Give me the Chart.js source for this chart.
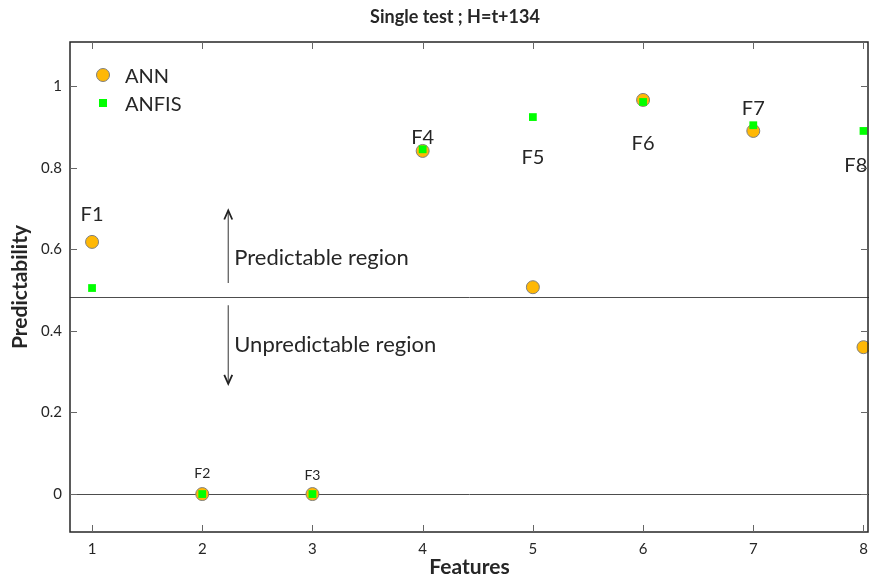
<!DOCTYPE html>
<html>
<head>
<meta charset="utf-8">
<script src="https://cdn.jsdelivr.net/npm/chart.js@4.4.3/dist/chart.umd.min.js"></script>
<style>
  html, body { margin: 0; padding: 0; background: #fff; }
  #wrap { width: 869px; height: 580px; }
</style>
</head>
<body>
<div id="wrap"><canvas id="scatter" width="869" height="580"></canvas></div>
<script>
const features = [1, 2, 3, 4, 5, 6, 7, 8];
const featureNames = ['F1', 'F2', 'F3', 'F4', 'F5', 'F6', 'F7', 'F8'];
const annValues = [0.618, 0, 0, 0.841, 0.507, 0.966, 0.89, 0.36];
const anfisValues = [0.505, 0, 0, 0.845, 0.924, 0.961, 0.904, 0.89];
// where each F label sits (data units)
const labelX = [1, 2, 3, 4, 5, 6, 7, 7.93];
const labelY = [0.685, 0.05, 0.045, 0.875, 0.825, 0.86, 0.945, 0.805];
const labelBig = [true, false, false, true, true, true, true, true];
const xTicks = [1, 2, 3, 4, 5, 6, 7, 8];
const yTicks = [0, 0.2, 0.4, 0.6, 0.8, 1];
const threshold = 0.483;

const FONT = 'Lato, "Open Sans", sans-serif';
const TXT = '#262626';

const toPoints = (vals) => features.map((x, i) => ({ x: x, y: vals[i] }));

const decorPlugin = {
    id: 'decor',
    beforeDatasetsDraw(chart) {
        const { ctx, chartArea: a, scales } = chart;
        const x = scales.x, y = scales.y;
        ctx.save();
        // reference lines
        ctx.strokeStyle = '#4d4d4d';
        ctx.lineWidth = 1;
        [0, threshold].forEach(v => {
            const py = Math.round(y.getPixelForValue(v)) + 0.5;
            ctx.beginPath();
            ctx.moveTo(a.left, py);
            ctx.lineTo(a.right, py);
            ctx.stroke();
        });
        // arrows
        const ax = x.getPixelForValue(2.236);
        drawArrow(ctx, ax, y.getPixelForValue(0.517), y.getPixelForValue(0.695));
        drawArrow(ctx, ax, y.getPixelForValue(0.463), y.getPixelForValue(0.27));
        ctx.fillStyle = TXT;
        ctx.font = '22px ' + FONT;
        ctx.textAlign = 'left';
        ctx.textBaseline = 'middle';
        ctx.fillText('Predictable region', ax + 6, y.getPixelForValue(0.578));
        ctx.fillText('Unpredictable region', ax + 6, y.getPixelForValue(0.365));
        // F labels
        ctx.textAlign = 'center';
        featureNames.forEach((name, i) => {
            ctx.font = (labelBig[i] ? '20px ' : '14px ') + FONT;
            ctx.fillText(name, x.getPixelForValue(labelX[i]), y.getPixelForValue(labelY[i]));
        });
        ctx.restore();
    },
    afterDraw(chart) {
        const { ctx, chartArea: a, scales } = chart;
        ctx.save();
        // box
        ctx.strokeStyle = '#262626';
        ctx.lineWidth = 1.5;
        ctx.strokeRect(a.left, a.top, a.right - a.left - 1, a.bottom - a.top);
        // inward ticks
        ctx.strokeStyle = '#666';
        ctx.lineWidth = 1;
        xTicks.forEach(v => {
            const px = Math.round(scales.x.getPixelForValue(v)) + 0.5;
            ctx.beginPath();
            ctx.moveTo(px, a.bottom); ctx.lineTo(px, a.bottom - 7);
            ctx.moveTo(px, a.top); ctx.lineTo(px, a.top + 7);
            ctx.stroke();
        });
        yTicks.forEach(v => {
            const py = Math.round(scales.y.getPixelForValue(v)) + 0.5;
            ctx.beginPath();
            ctx.moveTo(a.left, py); ctx.lineTo(a.left + 7, py);
            ctx.moveTo(a.right - 1, py); ctx.lineTo(a.right - 8, py);
            ctx.stroke();
        });
        // title
        ctx.fillStyle = TXT;
        ctx.font = 'bold 18px ' + FONT;
        ctx.textAlign = 'center';
        ctx.textBaseline = 'middle';
        ctx.fillText('Single test ; H=t+134', 455, 17);
        // legend
        ctx.font = '20px ' + FONT;
        ctx.textAlign = 'left';
        ctx.beginPath();
        ctx.arc(103, 75, 6.5, 0, Math.PI * 2);
        ctx.fillStyle = '#FFB805';
        ctx.fill();
        ctx.strokeStyle = '#808080';
        ctx.stroke();
        ctx.fillStyle = '#00FF00';
        ctx.fillRect(99, 99, 8, 8);
        ctx.fillStyle = TXT;
        ctx.fillText('ANN', 125, 77);
        ctx.fillText('ANFIS', 125, 105);
        ctx.restore();
    }
};

function drawArrow(ctx, x, y0, y1) {
    const dir = y1 < y0 ? -1 : 1;
    ctx.strokeStyle = '#555';
    ctx.lineWidth = 1.2;
    ctx.beginPath();
    ctx.moveTo(x, y0);
    ctx.lineTo(x, y1);
    ctx.stroke();
    ctx.strokeStyle = '#222';
    ctx.lineWidth = 1.8;
    ctx.beginPath();
    ctx.moveTo(x - 4, y1 - dir * 9);
    ctx.lineTo(x, y1);
    ctx.lineTo(x + 4, y1 - dir * 9);
    ctx.stroke();
}

new Chart(document.getElementById('scatter'), {
    type: 'scatter',
    data: {
        datasets: [{
            label: 'ANN',
            data: toPoints(annValues),
            pointStyle: 'circle',
            pointRadius: 6.5,
            pointHoverRadius: 6.5,
            backgroundColor: '#FFB805',
            borderColor: '#808080',
            borderWidth: 1,
            order: 2
        }, {
            label: 'ANFIS',
            data: toPoints(anfisValues),
            pointStyle: 'rect',
            pointRadius: 5.5,
            pointHoverRadius: 5.5,
            backgroundColor: '#00FF00',
            borderColor: '#00FF00',
            borderWidth: 0,
            order: 1
        }]
    },
    options: {
        responsive: false,
        animation: false,
        layout: { autoPadding: false, padding: { top: 42, right: 0, left: 0, bottom: 0 } },
        plugins: {
            legend: { display: false },
            title: { display: false },
            tooltip: { enabled: false }
        },
        scales: {
            x: {
                type: 'linear',
                min: 0.8,
                max: 8.05,
                afterBuildTicks: (s) => { s.ticks = xTicks.map(v => ({ value: v })); },
                afterFit: (s) => { s.height = 48; s.paddingLeft = 0; s.paddingRight = 0; },
                grid: { display: false },
                border: { display: false },
                ticks: { color: TXT, font: { family: FONT, size: 15 }, padding: 0 },
                title: {
                    display: true, text: 'Features', color: TXT,
                    font: { family: FONT, size: 21, weight: 'bold' }, padding: { top: 0, bottom: 0 }
                }
            },
            y: {
                min: -0.093,
                max: 1.108,
                afterBuildTicks: (s) => { s.ticks = yTicks.map(v => ({ value: v })); },
                afterFit: (s) => { s.width = 70; s.paddingTop = 0; s.paddingBottom = 0; },
                grid: { display: false },
                border: { display: false },
                ticks: {
                    color: TXT, font: { family: FONT, size: 15 }, padding: 0,
                    callback: (v) => String(Math.round(v * 10) / 10)
                },
                title: {
                    display: true, text: 'Predictability', color: TXT,
                    font: { family: FONT, size: 21, weight: 'bold' }, padding: { top: 8, bottom: 0 }
                }
            }
        }
    },
    plugins: [decorPlugin]
});
</script>
</body>
</html>
